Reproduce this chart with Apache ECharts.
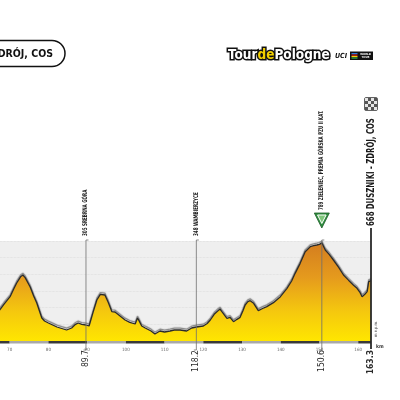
<!DOCTYPE html>
<html><head><meta charset="utf-8">
<script src="https://cdn.jsdelivr.net/npm/echarts@6/dist/echarts.min.js"></script>
<style>html,body{margin:0;padding:0;background:#fff}#c{width:400px;height:400px}</style>
</head><body><div id="c"></div>
<script>
// ---- data ----
const profileKm = [67.4,68.5,70.1,71.0,71.8,72.8,73.4,74.0,75.3,76.2,77.0,78.3,79.0,80.0,82.2,84.7,86.0,87.0,87.7,88.6,89.7,90.5,91.5,92.5,93.4,93.8,94.6,95.5,96.4,97.2,98.5,99.8,101.0,102.4,103.0,103.4,104.1,105.0,106.5,107.5,108.8,110.0,111.4,112.5,114.0,115.7,117.0,117.4,118.2,120.0,121.0,121.8,122.8,123.5,124.3,124.8,126.1,126.9,127.8,128.7,129.5,130.2,130.8,131.5,132.1,133.0,134.2,135.3,136.4,138.1,139.9,141.6,142.8,143.7,145.0,146.3,147.6,148.5,149.3,150.0,150.6,151.0,151.5,152.5,153.6,155.0,156.2,157.5,158.8,159.7,160.5,161.0,161.7,162.3,162.7,163.3];
const profileElev = [386,420,466,510,548,585,596,580,524,470,428,338,320,308,284,266,278,300,308,300,296,290,370,446,480,491,476,430,376,374,350,326,312,302,338,322,290,278,260,242,260,254,260,266,266,260,278,284,284,290,305,326,360,376,392,376,336,342,316,330,342,380,416,436,442,426,382,395,406,430,466,516,560,606,666,736,766,772,776,780,789,770,746,720,686,640,596,565,535,516,490,466,480,496,556,562];
const markKm = [89.7, 118.2, 150.6, 163.3];
const markLabels = ['305 SREBRNA GÓRA', '348 WAMBIERZYCE', '789 ZIELENIEC, PREMIA GÓRSKA PZU II KAT.', '668 DUSZNIKI - ZDRÓJ, COS'];
const markKind = ['town', 'town', 'climb', 'finish'];
const markKmLabels = ['89.7', '118.2', '150.6', '163.3'];
const kmTickStep = 10;
const titleText = 'DRÓJ, COS';
const yAxisName = 'm n.p.m.';
const xAxisName = 'km';

const X_MIN = 67.5, X_MAX = 163.3, Y_MIN = 200, Y_MAX = 800;
const FONT = "'DejaVu Sans Condensed','DejaVu Sans',sans-serif";

const chart = echarts.init(document.getElementById('c'), null, {renderer: 'canvas'});

function renderMark(params, api) {
  const i = params.dataIndex;
  const km = api.value(0);
  const pT = api.coord([km, Y_MAX]);
  const pB = api.coord([km, Y_MIN]);
  const x = pT[0], yT = pT[1], yB = pB[1];
  const kind = markKind[i];
  const ch = [];
  if (kind === 'finish') {
    ch.push({type: 'line', shape: {x1: x, y1: yT - 13, x2: x, y2: yB + 8}, style: {stroke: '#2a2a2a', lineWidth: 1.8}});
    ch.push({type: 'text', x: x, y: yT - 15, rotation: Math.PI / 2, scaleX: 0.7,
      style: {text: markLabels[i], fontFamily: FONT, fontWeight: 'bold', fontSize: 11, fill: '#1a1a1a', align: 'left', verticalAlign: 'middle'}});
    const fx = x - 6, fy = yT - 143, cs = 3;
    ch.push({type: 'rect', shape: {x: fx - 0.5, y: fy - 0.5, width: cs * 4 + 1, height: cs * 4 + 1, r: 1.5}, style: {fill: '#555', stroke: '#333', lineWidth: 0.6}});
    for (let r = 0; r < 4; r++) for (let c = 0; c < 4; c++) {
      if ((r + c) % 2 === 0) ch.push({type: 'rect', shape: {x: fx + c * cs, y: fy + r * cs, width: cs, height: cs}, style: {fill: '#e6e6e6'}});
    }
    ch.push({type: 'text', x: x + 4.5, y: yB - 4, rotation: Math.PI / 2,
      style: {text: yAxisName, fontFamily: FONT, fontSize: 4, fill: '#444', align: 'left', verticalAlign: 'middle'}});
    ch.push({type: 'text', x: x + 5, y: yB + 6,
      style: {text: xAxisName, fontFamily: FONT, fontWeight: 'bold', fontSize: 5, fill: '#333', align: 'left', verticalAlign: 'middle'}});
  } else {
    ch.push({type: 'line', shape: {x1: x, y1: yT - 1, x2: x, y2: yB + 9}, style: {stroke: '#6e6e6e', lineWidth: 0.8}});
    ch.push({type: 'line', shape: {x1: x, y1: yT - 1, x2: x + 2.5, y2: yT - 1}, style: {stroke: '#6e6e6e', lineWidth: 0.8}});
    ch.push({type: 'line', shape: {x1: x - 2.5, y1: yB + 9, x2: x, y2: yB + 9}, style: {stroke: '#6e6e6e', lineWidth: 0.8}});
    if (kind === 'climb') {
      ch.push({type: 'polygon', shape: {points: [[x - 7.5, yT - 28], [x + 7.5, yT - 28], [x, yT - 13]]}, style: {fill: '#2f8d3f', stroke: '#1f5f2a', lineWidth: 0.8}});
      ch.push({type: 'polygon', shape: {points: [[x - 4.3, yT - 26], [x + 4.3, yT - 26], [x, yT - 17.5]]}, style: {fill: '#7fc77a', stroke: '#ffffff', lineWidth: 1}});
      ch.push({type: 'text', x: x - 0.5, y: yT - 31, rotation: Math.PI / 2, scaleX: 0.69,
        style: {text: markLabels[i], fontFamily: FONT, fontWeight: 'bold', fontSize: 6.5, fill: '#222', align: 'left', verticalAlign: 'middle'}});
    } else {
      ch.push({type: 'text', x: x - 0.5, y: yT - 5, rotation: Math.PI / 2, scaleX: 0.7,
        style: {text: markLabels[i], fontFamily: FONT, fontWeight: 'bold', fontSize: 6.5, fill: '#222', align: 'left', verticalAlign: 'middle'}});
    }
  }
  ch.push({type: 'text', x: x - 0.5, y: yB + 9, rotation: Math.PI / 2, scaleX: 0.95,
    style: {text: markKmLabels[i], fontFamily: FONT, fontSize: 9, fill: '#2a2a2a', fontWeight: kind === 'finish' ? 'bold' : 'normal', align: 'right', verticalAlign: 'middle'}});
  return {type: 'group', children: ch};
}

const option = {
  animation: false,
  backgroundColor: '#ffffff',
  grid: [
    {left: 0, right: 29, top: 241, bottom: 59, show: true, backgroundColor: '#efefef', borderWidth: 0},
    {left: 0, right: 29, top: 341, height: 2.5}
  ],
  xAxis: [
    {type: 'value', gridIndex: 0, min: X_MIN, max: X_MAX, splitNumber: 10, show: false, splitLine: {show: false}},
    {type: 'value', gridIndex: 1, min: X_MIN, max: X_MAX, splitNumber: 10,
      axisLine: {show: false}, axisTick: {show: false}, splitLine: {show: false},
      splitArea: {show: true, areaStyle: {color: ['#3a3a3a', '#a9a9a9']}},
      axisLabel: {fontSize: 4.5, color: '#666', margin: 3.5, fontFamily: FONT, showMinLabel: false, showMaxLabel: false,
        formatter: v => (Math.abs(v % kmTickStep) < 1e-6 ? String(v) : '')}}
  ],
  yAxis: [
    {type: 'value', gridIndex: 0, min: Y_MIN, max: Y_MAX, interval: 100, position: 'right',
      axisLine: {show: false}, axisTick: {show: false}, axisLabel: {show: false},
      splitLine: {show: true, lineStyle: {color: '#dadada', width: 0.7, type: 'dotted'}}},
    {type: 'value', gridIndex: 1, show: false, min: 0, max: 1}
  ],
  series: [
    {
      type: 'line', xAxisIndex: 0, yAxisIndex: 0, z: 2,
      data: profileKm.map((k, i) => [k, profileElev[i]]),
      symbol: 'none', smooth: false,
      lineStyle: {color: '#2b2b2b', width: 1.3, shadowColor: 'rgba(115,115,115,0.95)', shadowBlur: 1, shadowOffsetY: -1.8},
      areaStyle: {opacity: 1, color: new echarts.graphic.LinearGradient(0, 0, 0, 1, [
        {offset: 0, color: '#d47d1f'},
        {offset: 0.35, color: '#e59a1d'},
        {offset: 0.7, color: '#f5c80e'},
        {offset: 1, color: '#ffe600'}
      ])}
    },
    {
      type: 'custom', xAxisIndex: 0, yAxisIndex: 0, z: 5, clip: false,
      data: markKm.map(k => [k, Y_MIN]),
      renderItem: renderMark
    }
  ],
  graphic: [
    {type: 'rect', shape: {x: -30, y: 40.5, width: 95, height: 26, r: 13}, style: {fill: '#fff', stroke: '#111', lineWidth: 1.5}},
    {type: 'text', x: 53, y: 54, style: {text: titleText, fontFamily: FONT, fontWeight: 'bold', fontSize: 10.5, fill: '#111', align: 'right', verticalAlign: 'middle'}},
    {type: 'text', x: 228, y: 55.5, style: {
      text: '{a|Tour}{b|de}{a|Pologne}', verticalAlign: 'middle', align: 'left',
      rich: {
        a: {fontFamily: FONT, fontWeight: 900, fontSize: 13.5, fill: '#ffffff', stroke: '#111111', lineWidth: 3},
        b: {fontFamily: FONT, fontWeight: 900, fontSize: 13.5, fill: '#f2d000', stroke: '#111111', lineWidth: 3}
      }}},
    {type: 'text', x: 335, y: 56, style: {text: 'UCI', fontFamily: FONT, fontWeight: 'bold', fontStyle: 'italic', fontSize: 7, fill: '#111', align: 'left', verticalAlign: 'middle'}},
    {type: 'rect', shape: {x: 350, y: 51.5, width: 23, height: 8.5}, style: {fill: '#111'}},
    {type: 'rect', shape: {x: 351.5, y: 53, width: 6, height: 1.2}, style: {fill: '#2a7de1'}},
    {type: 'rect', shape: {x: 351.5, y: 54.5, width: 6, height: 1.2}, style: {fill: '#e2231a'}},
    {type: 'rect', shape: {x: 351.5, y: 56, width: 6, height: 1.2}, style: {fill: '#f5d000'}},
    {type: 'rect', shape: {x: 351.5, y: 57.5, width: 6, height: 1.2}, style: {fill: '#2aa84a'}},
    {type: 'text', x: 365.5, y: 55.8, style: {text: 'WORLD\nTOUR', fontFamily: FONT, fontWeight: 'bold', fontSize: 2.8, lineHeight: 3, fill: '#fff', align: 'center', verticalAlign: 'middle'}}
  ]
};
chart.setOption(option);
</script>
</body></html>
